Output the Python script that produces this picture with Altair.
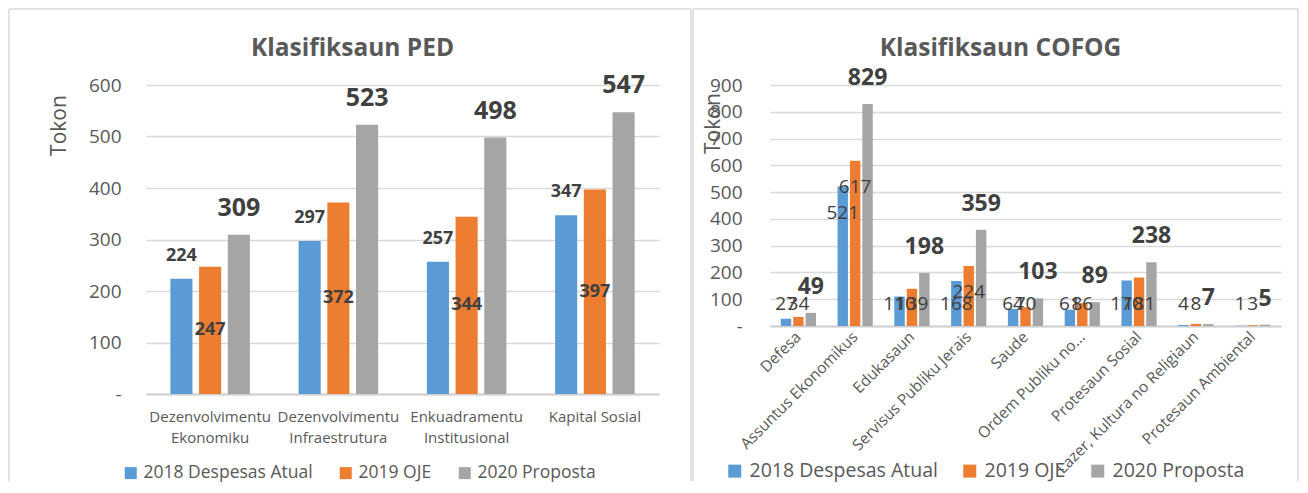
import altair as alt
import pandas as pd

series = ["2018 Despesas Atual", "2019 OJE", "2020 Proposta"]
colors = ["#5B9BD5", "#ED7D31", "#A5A5A5"]

ped_categories = ["Dezenvolvimentu Ekonomiku", "Dezenvolvimentu Infraestrutura",
                  "Enkuadramentu Institusional", "Kapital Sosial"]
ped_2018 = [224, 297, 257, 347]
ped_2019 = [247, 372, 344, 397]
ped_2020 = [309, 523, 498, 547]

cofog_categories = ["Defesa", "Assuntus Ekonomikus", "Edukasaun", "Servisus Publiku Jerais",
                    "Saude", "Ordem Publiku no...", "Protesaun Sosial",
                    "Lazer, Kultura no Religiaun", "Protesaun Ambiental"]
cofog_2018 = [27, 521, 110, 168, 64, 61, 170, 4, 1]
cofog_2019 = [34, 617, 139, 224, 70, 86, 181, 8, 3]
cofog_2020 = [49, 829, 198, 359, 103, 89, 238, 7, 5]

ped_ticks = [0, 100, 200, 300, 400, 500, 600]
cofog_ticks = [0, 100, 200, 300, 400, 500, 600, 700, 800, 900]

FONT = "Open Sans"
TXT = "#595959"
LBL = "#404040"
GRID = "#d9d9d9"
NB = "\u00a0"


def long_df(cats, a, b, c):
    rows = []
    for i, cat in enumerate(cats):
        for s, vals in zip(series, (a, b, c)):
            rows.append({"cat": cat, "series": s, "value": vals[i]})
    return pd.DataFrame(rows)


def frame(x0, x1, y0, y1):
    d = pd.DataFrame({"k": [0]})
    base = alt.Chart(d).mark_rule(color=GRID, strokeWidth=1.5)
    top = base.encode(x=alt.value(x0), x2=alt.value(x1), y=alt.value(y0))
    left = base.encode(x=alt.value(x0), y=alt.value(y0), y2=alt.value(y1))
    right = base.encode(x=alt.value(x1), y=alt.value(y0), y2=alt.value(y1))
    return [top, left, right]


color_scale = alt.Scale(domain=series, range=colors)
zero_expr = "datum.value == 0 ? '-" + NB * 3 + "' : datum.label"

# ---------------- Left: PED ----------------
ped_df = long_df(ped_categories, ped_2018, ped_2019, ped_2020)

x_ped = alt.X("cat:N", sort=ped_categories,
              scale=alt.Scale(domain=ped_categories, paddingInner=0.38, paddingOuter=0.19),
              axis=alt.Axis(title=None, labelAngle=0, labelFont=FONT, labelFontSize=15,
                            labelColor=TXT, labelPadding=15, labelLineHeight=21, ticks=False,
                            domainColor="#d0d0d0", domainWidth=2, labelLimit=220,
                            labelExpr="length(datum.label) > 15 ? split(datum.label, ' ') : datum.label"))
xo_ped = alt.XOffset("series:N", sort=series,
                     scale=alt.Scale(domain=series, paddingInner=0.23, paddingOuter=0))
ped_axis = alt.Axis(values=ped_ticks, title="Tokon", labelFont=FONT, labelFontSize=19,
                    labelColor=TXT, labelPadding=25, ticks=False, domain=False,
                    gridColor=GRID, gridWidth=1.5, labelExpr=zero_expr,
                    titleFont=FONT, titleFontSize=21, titleFontWeight="normal", titleColor=TXT,
                    titleX=-87, titleY=40, titleAngle=-90, titleAlign="center",
                    titleBaseline="middle")
ped_scale = alt.Scale(domain=[0, 600], nice=False)

ped_bars = alt.Chart(ped_df).mark_bar().encode(
    x=x_ped, xOffset=xo_ped,
    y=alt.Y("value:Q", scale=ped_scale, axis=ped_axis),
    color=alt.Color("series:N", sort=series, scale=color_scale,
                    legend=alt.Legend(orient="none", legendX=-24, legendY=379,
                                      direction="horizontal", title=None, symbolType="square",
                                      symbolSize=144, symbolStrokeWidth=0, labelFont=FONT,
                                      labelFontSize=17.5, labelColor=TXT, columnPadding=24,
                                      labelOffset=4, labelLimit=400)),
)

ped_t18 = alt.Chart(ped_df).transform_filter(
    alt.datum.series == series[0]
).mark_text(dy=-23, baseline="middle", font=FONT, fontWeight="bold", fontSize=18, color=LBL).encode(
    x=x_ped, xOffset=xo_ped, y=alt.Y("value:Q", scale=ped_scale, axis=ped_axis),
    text=alt.Text("value:Q"))

ped_t19 = alt.Chart(ped_df).transform_filter(
    alt.datum.series == series[1]
).transform_calculate(mid="datum.value / 2").mark_text(
    baseline="middle", font=FONT, fontWeight="bold", fontSize=18, color=LBL).encode(
    x=x_ped, xOffset=xo_ped, y=alt.Y("mid:Q", scale=ped_scale, axis=ped_axis),
    text=alt.Text("value:Q"))

ped_t20 = alt.Chart(ped_df).transform_filter(
    alt.datum.series == series[2]
).mark_text(dy=-27, baseline="middle", font=FONT, fontWeight="bold", fontSize=25, color=LBL).encode(
    x=x_ped, xOffset=xo_ped, y=alt.Y("value:Q", scale=ped_scale, axis=ped_axis),
    text=alt.Text("value:Q"))

left = alt.layer(ped_bars, ped_t18, ped_t19, ped_t20, *frame(-137, 545, -76, 396)).properties(
    width=513, height=309,
    title=alt.TitleParams("Klasifiksaun PED", font=FONT, fontSize=24.5, fontWeight="bold",
                          color=TXT, anchor="middle", frame="group", dx=-50, offset=-53),
)

# ---------------- Right: COFOG ----------------
cof_df = long_df(cofog_categories, cofog_2018, cofog_2019, cofog_2020)

x_cof = alt.X("cat:N", sort=cofog_categories,
              scale=alt.Scale(domain=cofog_categories, paddingInner=0.38, paddingOuter=0.19),
              axis=alt.Axis(title=None, labelAngle=-45, labelAlign="right", labelBaseline="middle",
                            labelFont=FONT, labelFontSize=15.5, labelColor=TXT, labelPadding=8,
                            ticks=False, domainColor="#d0d0d0", domainWidth=2, labelLimit=300))
xo_cof = alt.XOffset("series:N", sort=series,
                     scale=alt.Scale(domain=series, paddingInner=0.16, paddingOuter=0))
cof_axis = alt.Axis(values=cofog_ticks, title="Tokon", labelFont=FONT, labelFontSize=19,
                    labelColor=TXT, labelPadding=28, ticks=False, domain=False,
                    gridColor=GRID, gridWidth=1.5, labelExpr=zero_expr,
                    titleFont=FONT, titleFontSize=21, titleFontWeight="normal", titleColor=TXT,
                    titleX=-57, titleY=38, titleAngle=-90, titleAlign="center",
                    titleBaseline="middle")
cof_scale = alt.Scale(domain=[0, 900], nice=False)

cof_bars = alt.Chart(cof_df).mark_bar().encode(
    x=x_cof, xOffset=xo_cof,
    y=alt.Y("value:Q", scale=cof_scale, axis=cof_axis),
    color=alt.Color("series:N", sort=series, scale=color_scale,
                    legend=alt.Legend(orient="none", legendX=-45, legendY=376,
                                      direction="horizontal", title=None, symbolType="square",
                                      symbolSize=169, symbolStrokeWidth=0, labelFont=FONT,
                                      labelFontSize=19.5, labelColor=TXT, columnPadding=22,
                                      labelOffset=5, labelLimit=400)),
)

cof_t_small = alt.Chart(cof_df).transform_filter(
    alt.datum.series != series[2]
).transform_calculate(lab="max(datum.value - 98, 81)").mark_text(
    baseline="middle", font=FONT, fontSize=19, color=LBL).encode(
    x=x_cof, xOffset=xo_cof, y=alt.Y("lab:Q", scale=cof_scale, axis=cof_axis),
    text=alt.Text("value:Q"))

cof_t20 = alt.Chart(cof_df).transform_filter(
    alt.datum.series == series[2]
).mark_text(dy=-26, baseline="middle", font=FONT, fontWeight="bold", fontSize=23, color=LBL).encode(
    x=x_cof, xOffset=xo_cof, y=alt.Y("value:Q", scale=cof_scale, axis=cof_axis),
    text=alt.Text("value:Q"))

right = alt.layer(cof_bars, cof_t_small, cof_t20, *frame(-77, 528, -76, 396)).properties(
    width=511, height=241,
    title=alt.TitleParams("Klasifiksaun COFOG", font=FONT, fontSize=24.5, fontWeight="bold",
                          color=TXT, anchor="middle", frame="group", dx=-25, offset=-53),
)

chart = alt.hconcat(left, right, spacing=0).resolve_scale(
    x="independent", y="independent", xOffset="independent"
).resolve_legend(color="independent").configure_view(
    stroke=None
).properties(padding=0, background="white")

chart.save("out.html", embed_options={"renderer": "svg", "actions": False})
